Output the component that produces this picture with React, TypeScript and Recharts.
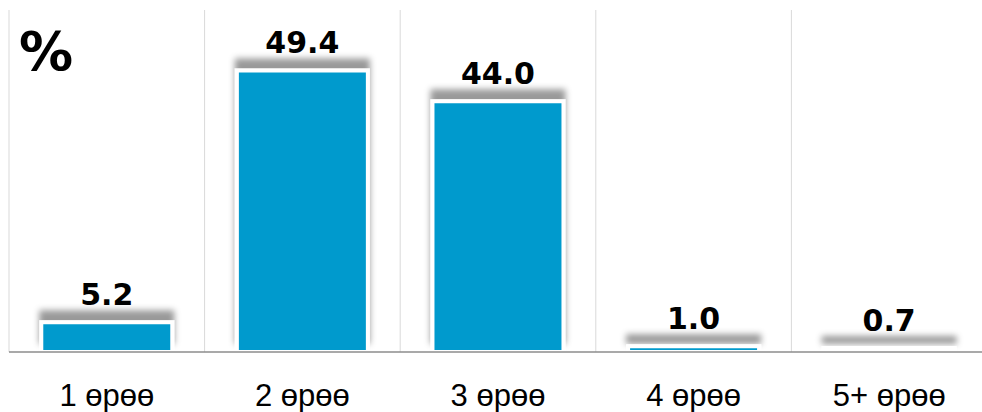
import { BarChart, Bar, XAxis, YAxis, CartesianGrid, LabelList } from 'recharts'

const rooms = ['1 өрөө', '2 өрөө', '3 өрөө', '4 өрөө', '5+ өрөө']
const shares = [5.2, 49.4, 44.0, 1.0, 0.7]

const data = rooms.map((name, i) => ({ name, value: shares[i] }))

function RoomTick({ x, y, payload }: any) {
    return (
        <text x={x} y={y + 46} textAnchor="middle" fill="#000" fontFamily="'Liberation Sans', Arial, sans-serif" fontSize={31}>
            {payload.value}
        </text>
    )
}

export default function App() {
    return (
        <div style={{ position: 'absolute', left: 0, top: 0, width: 982, height: 412, overflow: 'hidden', background: '#fff' }}>
            <div style={{ position: 'absolute', left: 8, top: 0 }}>
                <BarChart width={990} height={412} data={data} margin={{ top: 10, right: 11, left: 1, bottom: 0 }} barCategoryGap="16.5%">
                    <defs>
                        <filter id="barShadow" filterUnits="userSpaceOnUse" x="0" y="0" width="990" height="412">
                            <feDropShadow dx="0" dy="-10" stdDeviation="3" floodColor="#000" floodOpacity="0.4" />
                        </filter>
                    </defs>
                    <CartesianGrid
                        horizontal={false}
                        stroke="#d9d9d9"
                        verticalCoordinatesGenerator={({ offset }: any) =>
                            rooms.map((_, i) => offset.left + (i * offset.width) / rooms.length)
                        }
                    />
                    <YAxis hide domain={[0, 60]} />
                    <Bar dataKey="value" fill="#009ACD" stroke="#fff" strokeWidth={4} filter="url(#barShadow)" isAnimationActive={false}>
                        <LabelList
                            dataKey="value"
                            position="top"
                            offset={17}
                            formatter={(v: any) => Number(v).toFixed(1)}
                            fill="#000"
                            fontFamily="'DejaVu Sans', Verdana, sans-serif"
                            fontWeight="bold"
                            fontSize={30}
                        />
                    </Bar>
                    <XAxis
                        dataKey="name"
                        height={60}
                        tickLine={false}
                        axisLine={{ stroke: '#8c8c8c', strokeWidth: 1.5 }}
                        tick={<RoomTick />}
                        interval={0}
                    />
                </BarChart>
            </div>
            <div style={{ position: 'absolute', left: 19, top: 21, fontFamily: "'DejaVu Sans', Verdana, sans-serif", fontWeight: 'bold', fontSize: 54, lineHeight: '62px', color: '#000' }}>
                %
            </div>
        </div>
    )
}
